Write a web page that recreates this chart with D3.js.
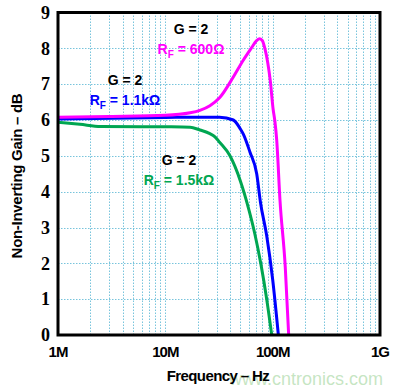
<!DOCTYPE html>
<html><head><meta charset="utf-8">
<script src="https://cdn.jsdelivr.net/npm/d3@7"></script>
<style>body{margin:0;background:#fff}svg{display:block}</style>
</head><body><svg id="c" width="402" height="389"></svg>
<script>
// Data (frequency in MHz, gain in dB)
const rf600 = [[1,6.08],[3,6.1],[10,6.13],[17,6.2],[21,6.27],[26,6.4],[32,6.62],[43,7.2],[53,7.66],[64,8.03],[70,8.2],[75,8.27],[80,8.22],[85,7.97],[90,7.6],[95,7.1],[101,6.3],[105,5.95],[109,5.45],[117,3.76],[131,1.9],[141,0]];
const rf1100 = [[1,6.03],[10,6.07],[21,6.08],[32,6.08],[43,6.0],[50,5.75],[53,5.62],[61.5,5.1],[71,4.5],[77,3.7],[88,2.77],[100,1.55],[113,0]];
const rf1500 = [[1,5.94],[1.6,5.88],[2.5,5.82],[10,5.81],[17,5.8],[21,5.72],[26,5.62],[29,5.53],[32,5.38],[40,5.0],[50,4.3],[60,3.5],[68,2.84],[78,1.95],[88,1.0],[98,0]];
const xTicks = [1,10,100,1000];
const xTickLabels = ["1M","10M","100M","1G"];
const yTicks = [0,1,2,3,4,5,6,7,8,9];
const labels = [
  {g:"G = 2", r:"600Ω", color:"#ff00ff", x:191, y:29},
  {g:"G = 2", r:"1.1kΩ", color:"#0000ff", x:125, y:80},
  {g:"G = 2", r:"1.5kΩ", color:"#00a651", x:179, y:160}
];

const svg = d3.select("#c");
const L=58, R=380, T=12.5, B=335;
const x = d3.scaleLog().domain([1,1000]).range([L,R]);
const y = d3.scaleLinear().domain([0,9]).range([B,T]);

// grid
const minor=[];
for (const d of [1,10,100]) for (let k=2;k<=9;k++) minor.push(d*k);
minor.push(10,100);
const grid = svg.append("g").attr("stroke","#78c4dc").attr("stroke-width",1).attr("stroke-dasharray","1.5,1.5");
grid.selectAll(".v").data(minor).join("line")
  .attr("x1",d=>Math.round(x(d))+0.5).attr("x2",d=>Math.round(x(d))+0.5).attr("y1",T).attr("y2",B);
grid.selectAll(".h").data(yTicks.filter(d=>d>0&&d<9)).join("line")
  .attr("y1",d=>Math.round(y(d))+0.5).attr("y2",d=>Math.round(y(d))+0.5).attr("x1",L).attr("x2",R);

// curves
const line = d3.line().x(d=>x(d[0])).y(d=>y(d[1])).curve(d3.curveMonotoneX);
const series=[[rf1500,"#00a651"],[rf1100,"#0000ff"],[rf600,"#ff00ff"]];
svg.append("g").selectAll("path").data(series).join("path")
  .attr("d",d=>line(d[0])).attr("fill","none").attr("stroke",d=>d[1]).attr("stroke-width",3);

// frame
svg.append("rect").attr("x",L).attr("y",T).attr("width",R-L).attr("height",B-T)
  .attr("fill","none").attr("stroke","#000").attr("stroke-width",3);

// y ticks
svg.append("g").selectAll("text").data(yTicks).join("text")
  .attr("x",50).attr("y",d=>y(d)).attr("dy","0.35em").attr("text-anchor","end")
  .attr("font-family","Liberation Serif, serif").attr("font-weight","bold").attr("font-size",18)
  .text(d=>d);
// x ticks
svg.append("g").selectAll("text").data(xTicks).join("text")
  .attr("x",d=>x(d)).attr("y",357).attr("text-anchor","middle")
  .attr("font-family","Liberation Sans, Arial, sans-serif").attr("font-weight","bold").attr("font-size",15)
  .attr("letter-spacing","-1")
  .text((d,i)=>xTickLabels[i]);

// watermark
svg.append("text").attr("x",383).attr("y",385).attr("text-anchor","end")
  .attr("font-family","Liberation Sans, Arial, sans-serif").attr("font-size",18)
  .attr("fill","#9fd49a").attr("fill-opacity",0.6).text("www.cntronics.com");

// axis titles
svg.append("text").attr("x",218).attr("y",381).attr("text-anchor","middle")
  .attr("font-family","Liberation Sans, Arial, sans-serif").attr("font-weight","bold").attr("font-size",15)
  .attr("letter-spacing","-0.6").text("Frequency – Hz");
svg.append("text").attr("transform","translate(22,176) rotate(-90)").attr("text-anchor","middle")
  .attr("font-family","Liberation Sans, Arial, sans-serif").attr("font-weight","bold").attr("font-size",15)
  .attr("letter-spacing","-0.3").text("Non-Inverting Gain – dB");

// annotations
const ann = svg.append("g").attr("font-family","Liberation Sans, Arial, sans-serif").attr("font-weight","bold");
labels.forEach(l=>{
  ann.append("text").attr("x",l.x).attr("y",l.y+5).attr("text-anchor","middle").attr("font-size",14).attr("fill","#000").text(l.g);
  const t = ann.append("text").attr("x",l.x).attr("y",l.y+25).attr("text-anchor","middle").attr("font-size",14).attr("fill",l.color);
  t.append("tspan").text("R");
  t.append("tspan").attr("font-size",10).attr("dy",4).text("F");
  t.append("tspan").attr("dy",-4).text(" = "+l.r);
});
</script></body></html>
